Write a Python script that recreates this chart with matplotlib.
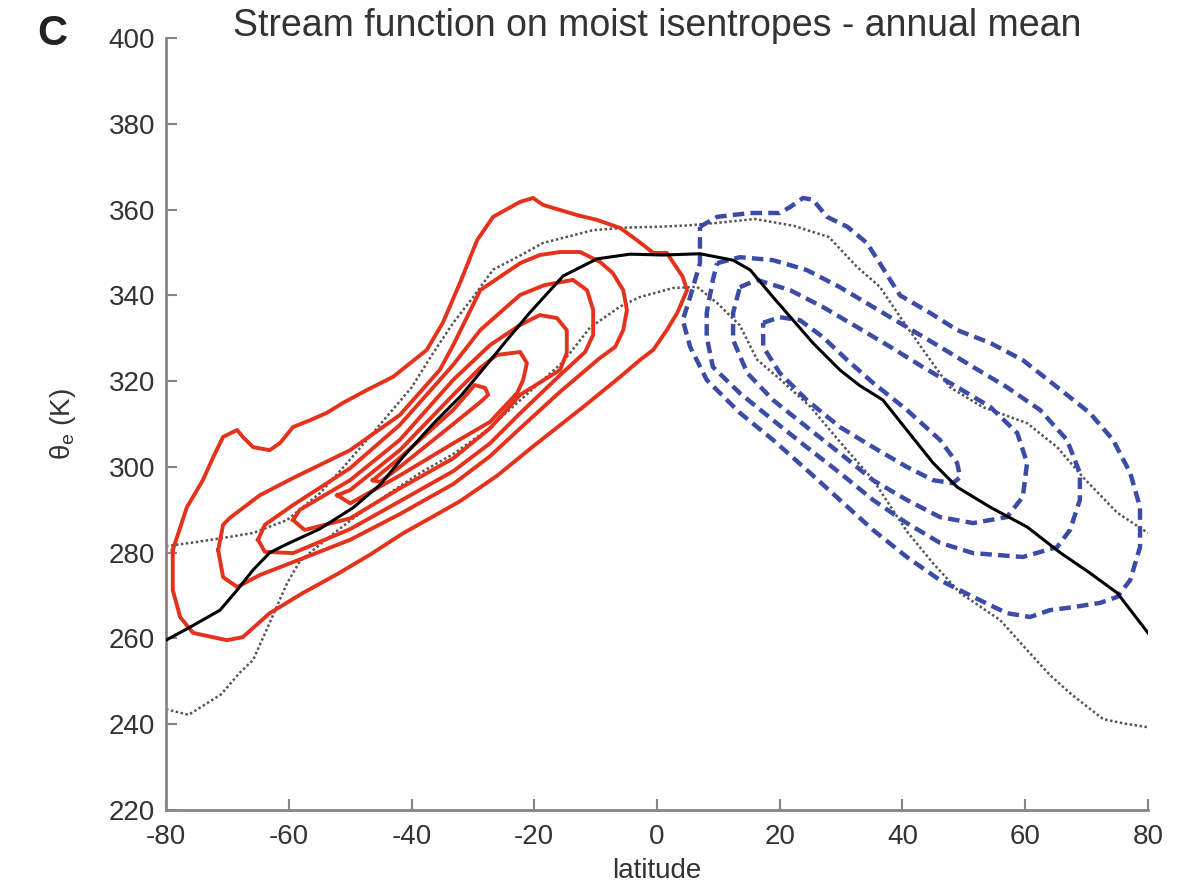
import numpy as np
import matplotlib
matplotlib.use("Agg")
import matplotlib.pyplot as plt

plt.rcParams["font.family"] = ["Liberation Sans", "DejaVu Sans"]
plt.rcParams["mathtext.fontset"] = "custom"
plt.rcParams["mathtext.rm"] = "Liberation Sans"
plt.rcParams["mathtext.it"] = "Liberation Sans"

# ---- data (latitude, theta_e in K) ----
XTICKS = [-80, -60, -40, -20, 0, 20, 40, 60, 80]
YTICKS = [220, 240, 260, 280, 300, 320, 340, 360, 380, 400]

# southern cell, positive stream function (solid red), outer -> inner
red_1 = [(-78.9, 280.6), (-76.6, 290.6), (-74.0, 296.9), (-72.3, 302.3), (-70.7, 307.0),
         (-68.4, 308.6), (-67.5, 307.0), (-65.8, 304.6), (-63.1, 303.9), (-61.4, 305.6),
         (-59.3, 309.3), (-56.5, 310.9), (-53.8, 312.6), (-51.2, 314.9), (-47.3, 317.9),
         (-43.0, 321.0), (-37.5, 327.3), (-34.9, 333.6), (-32.1, 342.9), (-29.3, 352.9),
         (-26.7, 358.3), (-22.3, 361.8), (-20.2, 362.7), (-18.6, 361.1), (-13.0, 358.7),
         (-9.8, 357.6), (-6.0, 355.7), (-3.3, 352.9), (-0.6, 349.9), (1.6, 349.9),
         (4.2, 344.3), (4.9, 341.2), (3.3, 335.9), (1.6, 331.9), (-0.6, 327.3),
         (-2.8, 324.9), (-6.0, 321.0), (-12.0, 314.0), (-20.0, 305.0), (-26.0, 298.0),
         (-32.1, 292.0), (-35.8, 289.0), (-41.4, 284.5), (-46.8, 279.5), (-52.1, 275.0),
         (-57.7, 270.6), (-63.1, 265.9), (-67.5, 260.3), (-70.1, 259.6), (-75.6, 261.3),
         (-77.7, 265.0), (-78.9, 271.3)]
red_2 = [(-71.5, 280.6), (-70.7, 286.5), (-69.6, 288.1), (-64.7, 293.4), (-59.3, 297.4),
         (-50.0, 303.9), (-41.9, 312.1), (-35.4, 322.6), (-33.2, 328.4), (-28.8, 341.2),
         (-22.3, 347.5), (-19.1, 349.4), (-15.8, 350.1), (-12.5, 350.1), (-9.3, 347.8),
         (-7.2, 345.2), (-5.5, 341.2), (-4.9, 336.6), (-5.5, 331.9), (-6.8, 328.0),
         (-9.3, 325.4), (-15.8, 317.5), (-22.3, 309.0), (-27.2, 302.5), (-33.2, 296.0),
         (-41.9, 289.0), (-50.0, 283.0), (-59.3, 277.8), (-64.7, 274.8), (-68.4, 272.0),
         (-70.7, 274.3)]
red_3 = [(-65.0, 283.0), (-63.9, 286.5), (-59.3, 291.1), (-50.0, 299.7), (-41.9, 309.8),
         (-33.2, 323.8), (-28.8, 331.9), (-22.3, 340.1), (-18.3, 342.4), (-13.7, 343.6),
         (-11.4, 341.2), (-10.4, 336.6), (-10.4, 330.8), (-11.7, 326.8), (-15.8, 321.4),
         (-22.3, 312.5), (-27.2, 305.5), (-33.2, 299.0), (-41.9, 292.0), (-50.0, 285.5),
         (-59.3, 279.9), (-63.9, 280.2)]
red_4 = [(-59.3, 287.6), (-58.2, 290.0), (-50.0, 296.9), (-41.9, 306.3), (-33.2, 320.3),
         (-27.2, 328.4), (-22.3, 333.1), (-19.1, 335.4), (-16.3, 334.7), (-14.7, 331.9),
         (-14.7, 326.6), (-15.8, 322.6), (-22.3, 316.8), (-27.2, 309.0), (-33.2, 302.0),
         (-41.9, 295.0), (-50.0, 288.0), (-57.4, 285.3)]
red_5 = [(-52.1, 293.4), (-50.0, 294.6), (-41.9, 303.9), (-33.2, 316.8), (-28.8, 323.1),
         (-26.1, 326.1), (-22.3, 326.8), (-21.2, 324.2), (-21.8, 320.3), (-22.8, 317.2),
         (-27.2, 310.5), (-33.2, 305.5), (-41.9, 298.0), (-50.0, 291.5)]
red_6 = [(-46.3, 296.9), (-41.9, 302.1), (-33.2, 313.3), (-29.7, 319.1), (-28.0, 318.4),
         (-27.5, 316.8), (-28.8, 315.1), (-33.2, 310.0), (-41.9, 300.0), (-45.1, 296.5)]

# northern cell, negative stream function (dashed blue), outer -> inner
blue_1 = [(7.0, 356.0), (9.8, 358.3), (15.2, 359.2), (20.0, 359.2), (21.7, 360.6),
          (23.8, 362.7), (25.4, 362.3), (27.7, 358.3), (31.0, 356.0), (34.2, 352.2),
          (36.3, 347.5), (38.0, 343.6), (39.6, 340.0), (44.5, 335.9), (48.9, 331.9),
          (54.3, 328.9), (59.6, 324.9), (65.2, 318.6), (70.5, 312.6), (74.3, 306.3),
          (77.1, 298.6), (78.7, 290.6), (78.7, 281.3), (77.1, 273.6), (75.0, 269.7),
          (72.2, 268.3), (67.8, 267.3), (64.0, 266.6), (60.8, 265.0), (57.0, 265.9),
          (51.5, 269.7), (46.1, 273.6), (40.7, 279.0), (35.2, 285.3), (29.8, 292.3),
          (24.4, 299.3), (18.9, 306.3), (13.5, 312.6), (8.1, 320.3), (5.4, 328.0),
          (4.2, 334.2), (5.4, 339.6), (7.0, 347.5)]
blue_2 = [(9.8, 347.5), (13.5, 348.9), (18.9, 348.2), (24.4, 345.9), (29.8, 341.9),
          (35.2, 337.3), (40.7, 332.6), (46.1, 328.0), (51.5, 323.3), (57.0, 318.6),
          (62.4, 313.3), (66.8, 306.3), (68.9, 298.6), (68.9, 292.3), (67.3, 285.3),
          (65.2, 281.3), (59.6, 279.0), (51.5, 279.9), (46.1, 282.3), (40.7, 286.9),
          (35.2, 292.3), (29.8, 298.6), (24.4, 304.6), (18.9, 310.9), (13.5, 317.2),
          (9.1, 323.3), (8.1, 330.3), (8.1, 335.9), (9.1, 343.6)]
blue_3 = [(13.5, 341.9), (16.3, 343.6), (21.7, 341.2), (27.0, 337.3), (32.6, 332.6),
          (38.0, 328.0), (43.3, 323.3), (48.9, 318.6), (54.3, 314.0), (58.7, 307.9),
          (60.3, 300.9), (59.6, 293.0), (57.0, 288.3), (51.5, 286.9), (46.1, 288.3),
          (40.7, 292.3), (35.2, 296.9), (29.8, 303.2), (24.4, 309.3), (18.9, 315.6),
          (14.7, 321.9), (12.4, 329.6), (12.4, 335.9)]
blue_4 = [(17.3, 333.6), (20.0, 334.9), (23.3, 334.2), (27.0, 330.3), (31.0, 324.9),
          (35.2, 319.6), (40.7, 313.3), (46.1, 306.3), (48.9, 300.9), (49.4, 297.6),
          (48.2, 296.2), (45.0, 296.9), (40.7, 300.0), (35.2, 304.6), (29.8, 309.3),
          (24.4, 315.6), (20.0, 321.9), (17.3, 328.0)]

# zonal-mean surface theta_e (solid black)
black_lat = [-80, -76, -71.2, -68.4, -65.8, -63.1, -60.3, -55, -49.5, -45, -41.4, -36.5,
             -32, -28.8, -24.5, -20.7, -15.3, -9.8, -4.4, 1, 7, 12.4, 15.2, 18.9, 21.7,
             25.4, 29.8, 33, 36.8, 40.7, 45, 48.9, 54.3, 60.3, 65.7, 70.5, 75, 80]
black_th = [259.6, 262.7, 266.6, 271.3, 276.0, 280.0, 282.0, 285.5, 290.5, 296.0, 302.3,
            310.0, 316.5, 322.0, 329.5, 336.0, 344.5, 348.5, 349.6, 349.4, 349.7, 348.2,
            345.9, 339.6, 335.0, 328.9, 322.6, 319.0, 315.6, 308.6, 300.9, 295.3, 290.6,
            286.0, 280.0, 275.3, 270.6, 261.3]

# dotted curves
upper_dot_lat = [-80, -75, -70, -65.8, -60.3, -54.9, -50.5, -46.3, -40, -36.5, -33.2, -30,
                 -26.7, -22, -18.6, -10.4, -5, 0.5, 5, 9.8, 16, 22.3, 28, 32.6, 36.3,
                 39.6, 43.5, 47.7, 53, 60.3, 65.2, 69.4, 75, 80]
upper_dot_th = [281.5, 282.5, 283.6, 284.6, 287.6, 293.9, 300.9, 307.9, 318.5, 326.5, 333.6,
                339.5, 346.0, 349.5, 352.2, 355.2, 355.8, 356.0, 356.3, 356.9, 357.8, 356.2,
                353.6, 346.6, 342.0, 335.0, 327.0, 318.6, 314.0, 310.2, 304.6, 297.6,
                289.3, 284.6]
lower_dot_lat = [-80, -76.3, -71, -68, -65.8, -63, -60.3, -58.2, -54, -49.5, -44, -38.6,
                 -33.2, -27.7, -22.8, -15.3, -10.9, -6, -2.8, 2.6, 6.5, 9.8, 13.5, 16.3,
                 20, 25, 30, 35.2, 40.7, 45, 49.4, 55.9, 60.8, 64, 67.5, 72.7, 76, 80]
lower_dot_th = [243.5, 242.2, 247.0, 252.0, 255.0, 264.0, 272.8, 278.0, 283.0, 288.0, 293.5,
                298.6, 303.0, 308.6, 314.9, 324.5, 332.5, 337.4, 339.6, 341.7, 342.0, 338.2,
                333.0, 325.0, 320.5, 314.0, 305.5, 297.0, 285.0, 277.5, 270.6, 264.3,
                256.5, 251.5, 247.0, 241.2, 240.2, 239.3]

RED = "#e5321c"
BLUE = "#3c4ca4"
SPINE = "#8a8484"
TEXT = "#333333"


def closed(points):
    arr = np.array(points + points[:1])
    return arr[:, 0], arr[:, 1]


fig = plt.figure(figsize=(11.9, 8.92), dpi=100)
ax = fig.add_axes([0.1395, 0.0919, 0.8252, 0.8655])

ax.plot(upper_dot_lat, upper_dot_th, color="#555555", lw=1.8, ls=(0, (1, 1)), zorder=2)
ax.plot(lower_dot_lat, lower_dot_th, color="#555555", lw=1.8, ls=(0, (1, 1)), zorder=2)

for c in [red_1, red_2, red_3, red_4, red_5, red_6]:
    x, y = closed(c)
    ax.plot(x, y, color=RED, lw=2.8, solid_joinstyle="round", zorder=3)

for c in [blue_1, blue_2, blue_3, blue_4]:
    x, y = closed(c)
    ax.plot(x, y, color=BLUE, lw=3.2, ls=(0, (2.6, 1.4)), zorder=3)

ax.plot(black_lat, black_th, color="black", lw=2.2, solid_joinstyle="round", zorder=4)

ax.set_xlim(-80, 80)
ax.set_ylim(220, 400)
ax.set_xticks(XTICKS)
ax.set_yticks(YTICKS)
ax.set_xticklabels([str(v) for v in XTICKS])
ax.set_yticklabels([str(v) for v in YTICKS])
for side in ["top", "right"]:
    ax.spines[side].set_visible(False)
for side in ["left", "bottom"]:
    ax.spines[side].set_color(SPINE)
    ax.spines[side].set_linewidth(2)
ax.tick_params(direction="in", length=8, width=1.5, color=SPINE,
               labelsize=20, labelcolor=TEXT)
ax.tick_params(axis="x", pad=10)
ax.tick_params(axis="y", pad=8)

ax.set_xlabel("latitude", fontsize=20, color=TEXT, labelpad=6)
ax.set_ylabel(r"$\theta_\mathregular{e}$ (K)", fontsize=20, color=TEXT, labelpad=22)

fig.text(0.552, 0.971, "Stream function on moist isentropes - annual mean",
         ha="center", va="center", fontsize=27, color=TEXT)
fig.text(0.044, 0.962, "C", ha="center", va="center", fontsize=30,
         fontweight="bold", color="#222222")

fig.savefig("out.png", dpi=100)
